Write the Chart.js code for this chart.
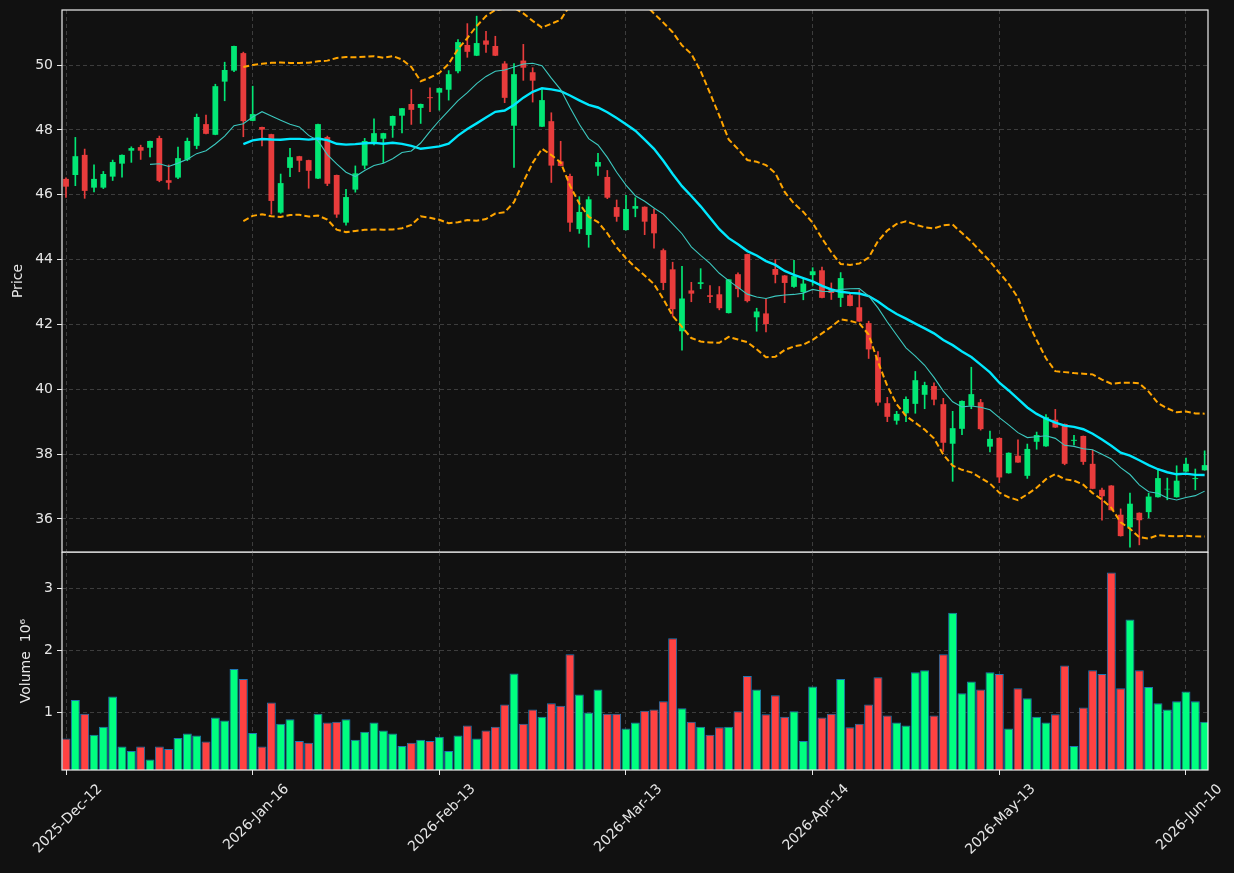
<!DOCTYPE html>
<html>
<head>
<meta charset="utf-8">
<script src="https://cdn.jsdelivr.net/npm/chart.js@4.4.0/dist/chart.umd.min.js"></script>
<style>
html, body { margin: 0; padding: 0; background: #111111; }
#wrap { position: relative; width: 1234px; height: 873px; }
#priceBox { position: absolute; left: 0; top: 0; width: 1234px; height: 553px; }
#volBox { position: absolute; left: 0; top: 552px; width: 1234px; height: 321px; }
</style>
</head>
<body>
<div id="wrap">
  <div id="priceBox"><canvas id="priceChart"></canvas></div>
  <div id="volBox"><canvas id="volumeChart"></canvas></div>
</div>
<script>
// x ticks shown (candle index -> date)
const tickIdx = [0, 20, 40, 60, 80, 100, 120];
const tickLabels = ['2025-Dec-12', '2026-Jan-16', '2026-Feb-13', '2026-Mar-13', '2026-Apr-14', '2026-May-13', '2026-Jun-10'];
const priceTicks = [36, 38, 40, 42, 44, 46, 48, 50];
const volumeTicks = [1, 2, 3];

// OHLC
const opens = [
  46.49, 46.61, 47.23, 46.22, 46.22, 46.56, 46.96, 47.36, 47.47, 47.45,
  47.75, 46.45, 46.53, 47.08, 47.51, 48.18, 47.85, 49.49, 49.83, 50.37,
  48.28, 48.09, 47.87, 45.45, 46.83, 47.19, 47.07, 46.50, 47.78, 46.61,
  45.14, 46.16, 46.90, 47.63, 47.73, 48.13, 48.44, 48.80, 48.68, 49.01,
  49.15, 49.24, 49.81, 50.62, 50.29, 50.76, 50.59, 50.05, 48.13, 50.14,
  49.78, 48.10, 48.27, 47.03, 46.58, 44.94, 44.76, 46.87, 46.55, 45.62,
  44.91, 45.57, 45.63, 45.41, 44.29, 43.70, 41.79, 43.05, 43.25, 42.90,
  42.93, 42.35, 43.55, 44.17, 42.22, 42.34, 43.71, 43.51, 43.16, 43.00,
  43.52, 43.67, 43.08, 42.82, 42.90, 42.53, 42.04, 40.99, 39.57, 39.03,
  39.26, 39.55, 39.83, 40.10, 39.54, 38.32, 38.78, 39.49, 39.60, 38.23,
  38.50, 37.41, 37.95, 37.33, 38.38, 38.24, 39.06, 38.93, 38.41, 38.56,
  37.70, 36.90, 37.03, 36.13, 35.74, 36.19, 36.21, 36.67, 36.91, 36.67,
  37.46, 37.23, 37.50
];
const highs = [
  46.52, 47.77, 47.41, 46.92, 46.72, 47.07, 47.23, 47.48, 47.53, 47.66,
  47.81, 46.92, 47.47, 47.75, 48.49, 48.46, 49.41, 50.09, 50.59, 50.40,
  49.35, 48.09, 47.87, 46.64, 47.43, 47.19, 47.07, 48.18, 47.81, 46.61,
  46.17, 46.89, 47.74, 48.34, 47.90, 48.43, 48.67, 49.25, 48.80, 49.30,
  49.29, 49.83, 50.79, 51.28, 51.51, 51.04, 50.89, 50.11, 50.05, 50.64,
  49.92, 49.25, 48.53, 47.65, 46.64, 45.94, 45.94, 47.28, 46.75, 45.84,
  45.98, 45.91, 45.63, 45.56, 44.33, 43.92, 43.79, 43.30, 43.72, 43.20,
  43.17, 43.39, 43.59, 44.17, 42.50, 42.78, 44.00, 43.51, 43.98, 43.41,
  43.75, 43.77, 43.28, 43.60, 42.97, 43.06, 42.10, 41.16, 39.75, 39.32,
  39.77, 40.55, 40.22, 40.20, 39.72, 39.32, 39.64, 40.68, 39.69, 38.71,
  38.50, 38.04, 38.44, 38.31, 38.68, 39.22, 39.38, 38.93, 38.58, 38.56,
  38.12, 36.95, 37.03, 36.31, 36.80, 36.19, 36.79, 37.54, 37.26, 37.64,
  37.88, 37.54, 38.10
];
const lows = [
  45.92, 46.28, 45.89, 46.09, 46.19, 46.44, 46.54, 47.00, 47.09, 47.17,
  46.40, 46.17, 46.50, 47.05, 47.42, 47.88, 47.85, 48.90, 49.80, 47.79,
  48.28, 47.51, 45.40, 45.43, 46.56, 46.71, 46.20, 46.50, 46.28, 45.30,
  45.06, 46.08, 46.80, 47.54, 46.99, 47.77, 47.91, 48.17, 48.20, 48.56,
  48.61, 48.92, 49.76, 50.24, 50.29, 50.39, 50.29, 48.84, 46.84, 49.53,
  48.86, 48.10, 46.38, 46.89, 44.87, 44.81, 44.38, 46.60, 45.88, 45.18,
  44.91, 45.32, 44.77, 44.35, 43.07, 42.25, 41.21, 42.70, 43.10, 42.67,
  42.45, 42.35, 42.85, 42.69, 41.79, 41.77, 43.28, 42.67, 43.14, 42.76,
  43.21, 42.82, 42.77, 42.55, 42.57, 42.09, 40.95, 39.50, 39.00, 38.92,
  39.00, 39.26, 39.40, 39.52, 38.08, 37.16, 38.60, 39.40, 38.74, 38.07,
  37.12, 37.41, 37.74, 37.25, 38.15, 38.24, 38.82, 37.67, 38.28, 37.68,
  36.93, 35.96, 36.27, 35.47, 35.13, 35.20, 36.03, 36.67, 36.59, 36.67,
  37.46, 36.90, 37.50
];
const closes = [
  46.25, 47.19, 46.12, 46.49, 46.64, 47.01, 47.23, 47.44, 47.36, 47.66,
  46.43, 46.37, 47.13, 47.66, 48.40, 47.88, 49.35, 49.85, 50.59, 48.27,
  48.49, 48.01, 45.81, 46.36, 47.16, 47.05, 46.74, 48.18, 46.34, 45.39,
  45.93, 46.66, 47.66, 47.90, 47.90, 48.43, 48.67, 48.62, 48.80, 48.98,
  49.29, 49.72, 50.71, 50.41, 50.68, 50.63, 50.29, 48.99, 49.72, 49.92,
  49.52, 48.92, 46.90, 46.89, 45.14, 45.47, 45.86, 47.01, 45.91, 45.32,
  45.56, 45.65, 45.17, 44.81, 43.28, 42.47, 42.80, 42.95, 43.30, 42.85,
  42.50, 43.39, 43.09, 42.72, 42.40, 42.01, 43.53, 43.28, 43.49, 43.26,
  43.64, 42.82, 42.97, 43.43, 42.57, 42.09, 41.23, 39.59, 39.15, 39.24,
  39.70, 40.28, 40.13, 39.68, 38.35, 38.80, 39.64, 39.85, 38.77, 38.47,
  37.28, 38.04, 37.74, 38.16, 38.59, 39.14, 38.82, 37.70, 38.44, 37.76,
  36.93, 36.70, 36.27, 35.47, 36.47, 35.96, 36.69, 37.26, 36.93, 37.18,
  37.70, 37.26, 37.66
];
// volume in millions
const volumes = [
  0.58, 1.20, 0.98, 0.64, 0.77, 1.26, 0.45, 0.38, 0.45, 0.24,
  0.45, 0.41, 0.59, 0.66, 0.63, 0.53, 0.92, 0.87, 1.70, 1.54,
  0.67, 0.45, 1.16, 0.82, 0.89, 0.54, 0.51, 0.98, 0.84, 0.85,
  0.89, 0.56, 0.69, 0.84, 0.71, 0.66, 0.46, 0.51, 0.56, 0.54,
  0.61, 0.38, 0.63, 0.79, 0.58, 0.71, 0.77, 1.13, 1.63, 0.82,
  1.05, 0.93, 1.15, 1.11, 1.94, 1.29, 1.00, 1.37, 0.98, 0.98,
  0.74, 0.84, 1.03, 1.05, 1.18, 2.20, 1.07, 0.85, 0.77, 0.64,
  0.76, 0.77, 1.02, 1.59, 1.37, 0.97, 1.28, 0.93, 1.02, 0.54,
  1.42, 0.92, 0.98, 1.54, 0.76, 0.82, 1.13, 1.57, 0.95, 0.84,
  0.79, 1.65, 1.68, 0.95, 1.94, 2.61, 1.31, 1.50, 1.37, 1.65,
  1.62, 0.74, 1.39, 1.23, 0.93, 0.84, 0.97, 1.76, 0.46, 1.08,
  1.68, 1.62, 3.26, 1.39, 2.50, 1.68, 1.41, 1.15, 1.05, 1.18,
  1.34, 1.18, 0.85
];

const UP = '#02e775', DOWN = '#e83c3c';
const VUP = '#00ff80', VDOWN = '#ff4242';
const TXT = '#e6e6e6';
const GRID = '#3d3d3d';
const FONT = { family: 'DejaVu Sans', size: 14 };

const isUp = closes.map((c, i) => c >= opens[i]);

// moving averages / bollinger from the closes
function sma(n) {
  const out = [];
  for (let i = n - 1; i < closes.length; i++) {
    let s = 0;
    for (let k = i - n + 1; k <= i; k++) s += closes[k];
    out.push({ x: i, y: s / n });
  }
  return out;
}
function band(n, mult) {
  const mid = sma(n);
  return mid.map(p => {
    let v = 0;
    for (let k = p.x - n + 1; k <= p.x; k++) v += (closes[k] - p.y) ** 2;
    const sd = Math.sqrt(v / n);
    return { x: p.x, y: p.y + mult * sd };
  });
}

const xMin = -0.43, xMax = 122.36;

const framePlugin = {
  id: 'frame',
  afterDraw(chart) {
    const { ctx, chartArea: a } = chart;
    ctx.save();
    ctx.strokeStyle = '#eeeeee';
    ctx.lineWidth = 1.2;
    ctx.strokeRect(a.left, a.top, a.right - a.left, a.bottom - a.top);
    ctx.restore();
  }
};

function xScale(showLabels) {
  return {
    type: 'linear',
    min: xMin,
    max: xMax,
    offset: false,
    afterBuildTicks: s => { s.ticks = tickIdx.map(v => ({ value: v })); },
    afterFit: s => {
      s.height = showLabels ? 103 : 0;
      s.paddingLeft = 0; s.paddingRight = 0;
    },
    grid: { color: GRID, offset: false, drawTicks: showLabels, tickLength: 5, tickColor: TXT, tickBorderDash: [] },
    border: { display: false, dash: [4, 3] },
    ticks: {
      display: showLabels,
      autoSkip: false,
      minRotation: 45,
      maxRotation: 45,
      labelOffset: 34,
      padding: 6,
      color: TXT,
      font: FONT,
      callback: v => tickLabels[tickIdx.indexOf(v)] || ''
    }
  };
}

function yScale(min, max, ticks, title, titlePad) {
  return {
    min, max,
    afterBuildTicks: s => { s.ticks = ticks.map(v => ({ value: v })); },
    afterFit: s => { s.width = 62; s.paddingTop = 0; s.paddingBottom = 0; },
    grid: { color: GRID, tickLength: 5, tickColor: TXT, tickBorderDash: [] },
    border: { display: false, dash: [4, 3] },
    ticks: { color: TXT, font: FONT, padding: 4 },
    title: { display: true, text: title, color: TXT, font: FONT, padding: { top: titlePad, bottom: 0 } }
  };
}

const lineDs = (data, color, width, dash) => ({
  type: 'line', data, borderColor: color, borderWidth: width, borderDash: dash || [],
  pointRadius: 0, tension: 0, fill: false, order: 0
});

new Chart(document.getElementById('priceChart'), {
  type: 'bar',
  data: {
    datasets: [
      lineDs(band(20, 2), '#ffa500', 2, [6, 3]),
      lineDs(band(20, -2), '#ffa500', 2, [6, 3]),
      lineDs(sma(10), '#3cc8bf', 1.1),
      lineDs(sma(20), '#00e8ff', 2.4),
      {
        data: closes.map((c, i) => ({ x: i, y: [opens[i], c] })),
        backgroundColor: isUp.map(u => u ? UP : DOWN),
        barPercentage: 0.62, categoryPercentage: 1, grouped: false, order: 1
      },
      {
        data: highs.map((h, i) => ({ x: i, y: [lows[i], h] })),
        backgroundColor: isUp.map(u => u ? UP : DOWN),
        barThickness: 1, grouped: false, order: 2
      }
    ]
  },
  options: {
    responsive: true,
    maintainAspectRatio: false,
    animation: false,
    layout: { padding: { top: 10, right: 26, bottom: 1, left: 0 } },
    plugins: { legend: { display: false }, tooltip: { enabled: false } },
    scales: {
      x: xScale(false),
      y: yScale(34.98, 51.70, priceTicks, 'Price', 10)
    }
  },
  plugins: [framePlugin]
});

new Chart(document.getElementById('volumeChart'), {
  type: 'bar',
  data: {
    datasets: [{
      data: volumes.map((v, i) => ({ x: i, y: v })),
      backgroundColor: isUp.map(u => u ? VUP : VDOWN),
      borderColor: '#1f77b4',
      borderWidth: 1,
      barPercentage: 0.96,
      categoryPercentage: 1
    }]
  },
  options: {
    responsive: true,
    maintainAspectRatio: false,
    animation: false,
    layout: { padding: { top: 0, right: 26, bottom: 0, left: 0 } },
    plugins: { legend: { display: false }, tooltip: { enabled: false } },
    scales: {
      x: xScale(true),
      y: yScale(0.072, 3.59, volumeTicks, 'Volume  10\u2076', 18)
    }
  },
  plugins: [framePlugin]
});
</script>
</body>
</html>
